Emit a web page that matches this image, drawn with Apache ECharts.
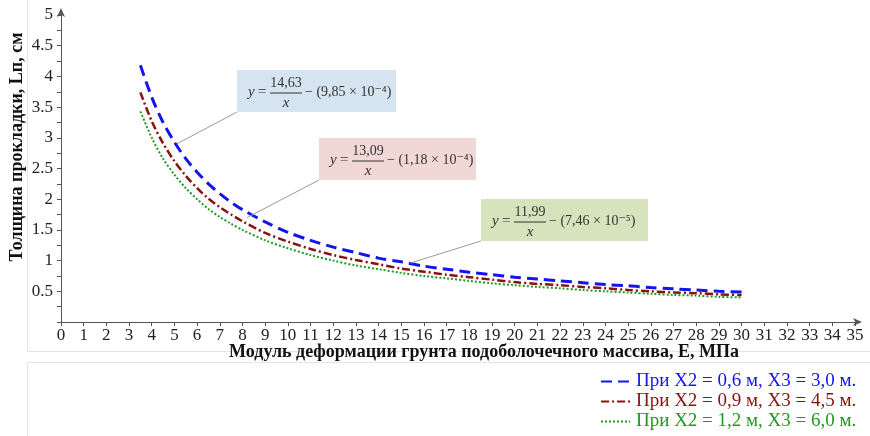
<!DOCTYPE html>
<html>
<head>
<meta charset="utf-8">
<script src="https://cdn.jsdelivr.net/npm/echarts@6.0.0/dist/echarts.min.js"></script>
<style>
    html, body { margin: 0; padding: 0; background: #fff; }
    #chart { width: 870px; height: 436px; }
</style>
</head>
<body>
<div id="chart"></div>
<script>
// модуль деформации E, МПа
var xValues = [3.5, 4, 4.5, 5, 5.5, 6, 6.5, 7, 7.5, 8, 9, 10, 11, 12, 13, 14, 15, 16, 17, 18, 19, 20, 21, 22, 23, 24, 25, 26, 27, 28, 29, 30];
// толщина прокладки Lп, см
var blueValues = [4.18, 3.66, 3.25, 2.93, 2.66, 2.44, 2.25, 2.09, 1.95, 1.83, 1.63, 1.46, 1.33, 1.22, 1.13, 1.04, 0.98, 0.91, 0.86, 0.81, 0.77, 0.73, 0.70, 0.67, 0.64, 0.61, 0.59, 0.56, 0.54, 0.52, 0.50, 0.49];
var redValues = [3.74, 3.27, 2.91, 2.62, 2.38, 2.18, 2.01, 1.87, 1.75, 1.64, 1.45, 1.31, 1.19, 1.09, 1.01, 0.94, 0.87, 0.82, 0.77, 0.73, 0.69, 0.65, 0.62, 0.60, 0.57, 0.55, 0.52, 0.50, 0.48, 0.47, 0.45, 0.44];
var greenValues = [3.43, 3.00, 2.66, 2.40, 2.18, 2.00, 1.84, 1.71, 1.60, 1.50, 1.33, 1.20, 1.09, 1.00, 0.92, 0.86, 0.80, 0.75, 0.71, 0.67, 0.63, 0.60, 0.57, 0.55, 0.52, 0.50, 0.48, 0.46, 0.44, 0.43, 0.41, 0.40];

var seriesNames = ['При X2 = 0,6 м, X3 = 3,0 м.', 'При X2 = 0,9 м, X3 = 4,5 м.', 'При X2 = 1,2 м, X3 = 6,0 м.'];
var seriesColors = ['#1414f0', '#8b1010', '#1f9a1f'];

// подписи уравнений и точки, куда ведут выноски
var eqNumerators = ['14,63', '13,09', '11,99'];
var eqTails = ['− (9,85 × 10⁻⁴)', '− (1,18 × 10⁻⁴)', '− (7,46 × 10⁻⁵)'];
var eqAnchors = [[5.1, 2.9], [8.2, 1.7], [15.4, 0.96]];

var SERIF = "'Liberation Serif', 'DejaVu Serif', serif";

function pairs(ys) {
    var out = [];
    for (var i = 0; i < xValues.length; i++) {
        out.push([xValues[i], ys[i]]);
    }
    return out;
}

// рамка с уравнением вида y = a/x - b
function callout(bx, by, w, bg, num, tail, anchorPx) {
    var h = 42;
    return {
        type: 'group',
        children: [{
            type: 'line',
            shape: { x1: bx, y1: by + h, x2: anchorPx[0], y2: anchorPx[1] },
            style: { stroke: '#9a9a9a', lineWidth: 1 },
            z: 10
        }, {
            type: 'rect',
            shape: { x: bx, y: by, width: w, height: h },
            style: { fill: bg },
            z: 11
        }, {
            type: 'text',
            style: { text: 'y', x: bx + 11, y: by + 22, fontSize: 15, fontFamily: SERIF, fontStyle: 'italic', fill: '#333', align: 'left', verticalAlign: 'middle' },
            z: 12
        }, {
            type: 'text',
            style: { text: '=', x: bx + 21, y: by + 22, fontSize: 15, fontFamily: SERIF, fill: '#333', align: 'left', verticalAlign: 'middle' },
            z: 12
        }, {
            type: 'text',
            style: { text: num, x: bx + 49, y: by + 13, fontSize: 14, fontFamily: SERIF, fill: '#333', align: 'center', verticalAlign: 'middle' },
            z: 12
        }, {
            type: 'line',
            shape: { x1: bx + 33, y1: by + 23, x2: bx + 65, y2: by + 23 },
            style: { stroke: '#333', lineWidth: 1 },
            z: 12
        }, {
            type: 'text',
            style: { text: 'x', x: bx + 49, y: by + 33, fontSize: 15, fontFamily: SERIF, fontStyle: 'italic', fill: '#333', align: 'center', verticalAlign: 'middle' },
            z: 12
        }, {
            type: 'text',
            style: { text: tail, x: bx + 68, y: by + 22, fontSize: 14, fontFamily: SERIF, fill: '#333', align: 'left', verticalAlign: 'middle' },
            z: 12
        }]
    };
}

window.onload = function() {
    var chart = echarts.init(document.getElementById('chart'));
    var lineStyles = [
        { width: 3, type: [11, 6] },
        { width: 2.5, type: [8, 3, 2, 3] },
        { width: 2, type: [2, 2] }
    ];
    var dataSets = [blueValues, redValues, greenValues];
    var series = [];
    for (var i = 0; i < 3; i++) {
        series.push({
            name: seriesNames[i],
            type: 'line',
            smooth: 0.3,
            symbol: 'none',
            color: seriesColors[i],
            lineStyle: {
                color: seriesColors[i],
                width: lineStyles[i].width,
                type: lineStyles[i].type
            },
            data: pairs(dataSets[i])
        });
    }

    chart.setOption({
        animation: false,
        backgroundColor: '#fff',
        grid: {
            left: 61,
            right: 15,
            top: 15,
            bottom: 114
        },
        legend: {
            orient: 'vertical',
            left: 600,
            top: 372,
            height: 64,
            padding: 0,
            itemWidth: 29,
            itemHeight: 14,
            itemGap: 1,
            itemStyle: { opacity: 0 },
            data: seriesNames.map(function(n, k) {
                return { name: n, textStyle: { color: seriesColors[k] } };
            }),
            textStyle: {
                fontFamily: SERIF,
                fontSize: 19,
                lineHeight: 19,
                padding: [0, 0, 0, 1]
            }
        },
        xAxis: {
            type: 'value',
            min: 0,
            max: 35,
            interval: 1,
            axisLine: {
                onZero: false,
                symbol: ['none', 'arrow'],
                symbolSize: [6, 9],
                symbolOffset: [0, 7],
                lineStyle: { color: '#555', width: 1 }
            },
            axisTick: { length: 4, lineStyle: { color: '#555' } },
            axisLabel: {
                fontFamily: SERIF,
                fontSize: 17,
                color: '#222',
                margin: 5,
                showMinLabel: true,
                showMaxLabel: true
            },
            splitLine: { show: false }
        },
        yAxis: {
            type: 'value',
            min: 0,
            max: 5,
            interval: 0.5,
            axisLine: {
                show: true,
                symbol: ['none', 'arrow'],
                symbolSize: [6, 9],
                symbolOffset: [0, 7],
                lineStyle: { color: '#555', width: 1 }
            },
            axisTick: { show: true, length: 4, lineStyle: { color: '#555' } },
            minorTick: { show: true, splitNumber: 2, length: 4, lineStyle: { color: '#555' } },
            axisLabel: {
                fontFamily: SERIF,
                fontSize: 17,
                color: '#222',
                margin: 8,
                formatter: function(v) { return v === 0 ? '' : String(v); }
            },
            splitLine: { show: false }
        },
        series: series
    });

    var anchorsPx = eqAnchors.map(function(p) {
        return chart.convertToPixel({ gridIndex: 0 }, p);
    });

    chart.setOption({
        graphic: [
            // рамки вокруг графика и легенды
            { type: 'line', shape: { x1: 27.5, y1: 0, x2: 27.5, y2: 351.5 }, style: { stroke: '#e4e4e4', lineWidth: 1 }, silent: true },
            { type: 'line', shape: { x1: 27.5, y1: 351.5, x2: 870, y2: 351.5 }, style: { stroke: '#e4e4e4', lineWidth: 1 }, silent: true },
            { type: 'rect', shape: { x: 27.5, y: 362.5, width: 860, height: 90 }, style: { fill: 'none', stroke: '#e4e4e4', lineWidth: 1 }, silent: true },
            // подписи осей
            {
                type: 'text',
                x: 17, y: 147, rotation: Math.PI / 2,
                style: { text: 'Толщина прокладки, Lп, см', fontFamily: SERIF, fontSize: 18, fontWeight: 'bold', fill: '#111', align: 'center', verticalAlign: 'middle' },
                z: 5
            },
            {
                type: 'text',
                x: 484, y: 352,
                style: { text: 'Модуль деформации грунта подоболочечного массива, E, МПа', fontFamily: SERIF, fontSize: 18, fontWeight: 'bold', fill: '#111', align: 'center', verticalAlign: 'middle' },
                z: 5
            },
            callout(237, 70, 159, '#d6e3f0', eqNumerators[0], eqTails[0], anchorsPx[0]),
            callout(319, 138, 157, '#f1d7d6', eqNumerators[1], eqTails[1], anchorsPx[1]),
            callout(481, 199, 167, '#d7e3bd', eqNumerators[2], eqTails[2], anchorsPx[2])
        ]
    });
};
</script>
</body>
</html>
